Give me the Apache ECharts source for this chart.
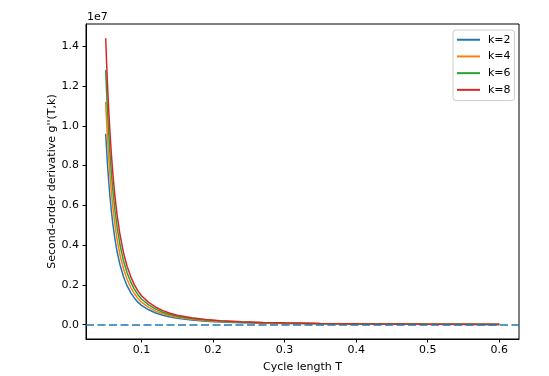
<!DOCTYPE html>
<html>
<head>
<meta charset="utf-8">
<script src="https://cdn.jsdelivr.net/npm/echarts@6/dist/echarts.min.js"></script>
<style>
html,body{margin:0;padding:0;background:#fff;}
#chart{width:549px;height:376px;}
</style>
</head>
<body>
<div id="chart"></div>
<script>
// Cycle length T (x values)
const cycleT = [0.050,0.052,0.054,0.056,0.058,0.060,0.063,0.066,0.070,0.075,0.080,0.085,0.090,0.095,0.100,0.110,0.120,0.130,0.140,0.150,0.170,0.190,0.210,0.240,0.270,0.300,0.350,0.400,0.450,0.500,0.550,0.600];
// g''(T,k) values, in units of 1e6
const gK2 = [9.600,8.352,7.315,6.432,5.702,5.069,4.291,3.667,3.014,2.400,1.949,1.613,1.344,1.133,0.970,0.749,0.586,0.470,0.384,0.317,0.230,0.173,0.136,0.101,0.077,0.060,0.042,0.031,0.023,0.018,0.014,0.012];
const gK4 = [11.200,9.744,8.534,7.504,6.653,5.914,5.006,4.278,3.517,2.800,2.274,1.882,1.568,1.322,1.131,0.874,0.683,0.549,0.448,0.370,0.269,0.202,0.159,0.118,0.090,0.071,0.049,0.036,0.027,0.021,0.017,0.013];
const gK6 = [12.800,11.136,9.754,8.576,7.603,6.758,5.722,4.890,4.019,3.200,2.598,2.150,1.792,1.510,1.293,0.998,0.781,0.627,0.512,0.422,0.307,0.230,0.182,0.134,0.102,0.081,0.056,0.041,0.031,0.024,0.019,0.015];
const gK8 = [14.400,12.528,10.973,9.648,8.554,7.603,6.437,5.501,4.522,3.600,2.923,2.419,2.016,1.699,1.454,1.123,0.878,0.706,0.576,0.475,0.346,0.259,0.204,0.151,0.115,0.091,0.063,0.046,0.035,0.027,0.022,0.017];
const seriesNames = ['k=2','k=4','k=6','k=8'];
const seriesData = [gK2, gK4, gK6, gK8];
const colors = ['#1f77b4','#ff7f0e','#2ca02c','#d62728'];
const xTicks = [0.1,0.2,0.3,0.4,0.5,0.6];
const yTicks = [0,2,4,6,8,10,12,14]; // in 1e6 units -> labels 0.0..1.4 (x1e7)
const baseline = 0;

const font = 'DejaVu Sans';
const chart = echarts.init(document.getElementById('chart'), null, {renderer:'canvas'});

const series = seriesNames.map((name, i) => ({
  name: name,
  type: 'line',
  data: cycleT.map((t, j) => [t, seriesData[i][j]]),
  symbol: 'none',
  smooth: false,
  lineStyle: {color: colors[i], width: 1.5},
  itemStyle: {color: colors[i]},
  z: 3 + i
}));
series[0].markLine = {
  silent: true,
  symbol: ['none','none'],
  label: {show: false},
  lineStyle: {color: '#1f77b4', width: 1.5, type: [8, 3.5]},
  data: [{yAxis: baseline}],
  z: 10
};

chart.setOption({
  animation: false,
  backgroundColor: '#fff',
  color: colors,
  grid: {left: 86, right: 30, top: 24, bottom: 37, outerBoundsMode: 'none', containLabel: false, show: true, borderColor: '#000', borderWidth: 1, backgroundColor: 'transparent'},
  xAxis: {
    type: 'value',
    min: 0.0225, max: 0.6275,
    name: 'Cycle length T',
    nameLocation: 'middle',
    nameGap: 23,
    nameMoveOverlap: false,
    nameTextStyle: {fontFamily: font, fontSize: 11, color: '#000'},
    axisLine: {show: true, onZero: false, lineStyle: {color: '#000', width: 1}},
    axisTick: {show: true, inside: false, length: 3.5, lineStyle: {color: '#000'}, customValues: xTicks},
    axisLabel: {fontFamily: font, fontSize: 11, color: '#000', margin: 6, customValues: xTicks, formatter: v => v.toFixed(1)},
    splitLine: {show: false}
  },
  yAxis: {
    type: 'value',
    min: -0.72, max: 15.12,
    name: "Second-order derivative g''(T,k)",
    nameLocation: 'middle',
    nameGap: 28,
    nameMoveOverlap: false,
    nameTextStyle: {fontFamily: font, fontSize: 11, color: '#000'},
    axisLine: {show: true, onZero: false, lineStyle: {color: '#000', width: 1}},
    axisTick: {show: true, inside: false, length: 3.5, lineStyle: {color: '#000'}, customValues: yTicks},
    axisLabel: {fontFamily: font, fontSize: 11, color: '#000', margin: 7, customValues: yTicks, formatter: v => (v/10).toFixed(1)},
    splitLine: {show: false}
  },
  legend: {
    orient: 'vertical',
    left: 453, top: 30,
    padding: [4, 4, 5, 4],
    icon: 'rect',
    itemWidth: 23, itemHeight: 2, itemGap: 5.2,
    backgroundColor: 'rgba(255,255,255,0.8)',
    borderColor: '#cccccc', borderWidth: 1, borderRadius: 3,
    textStyle: {fontFamily: font, fontSize: 11, lineHeight: 11.5, color: '#000', padding: [0,0,0,3]},
    data: seriesNames
  },
  graphic: [{
    type: 'text', left: 87, top: 12,
    style: {text: '1e7', font: '11px "DejaVu Sans"', fill: '#000'}
  }],
  series: series
});
</script>
</body>
</html>
